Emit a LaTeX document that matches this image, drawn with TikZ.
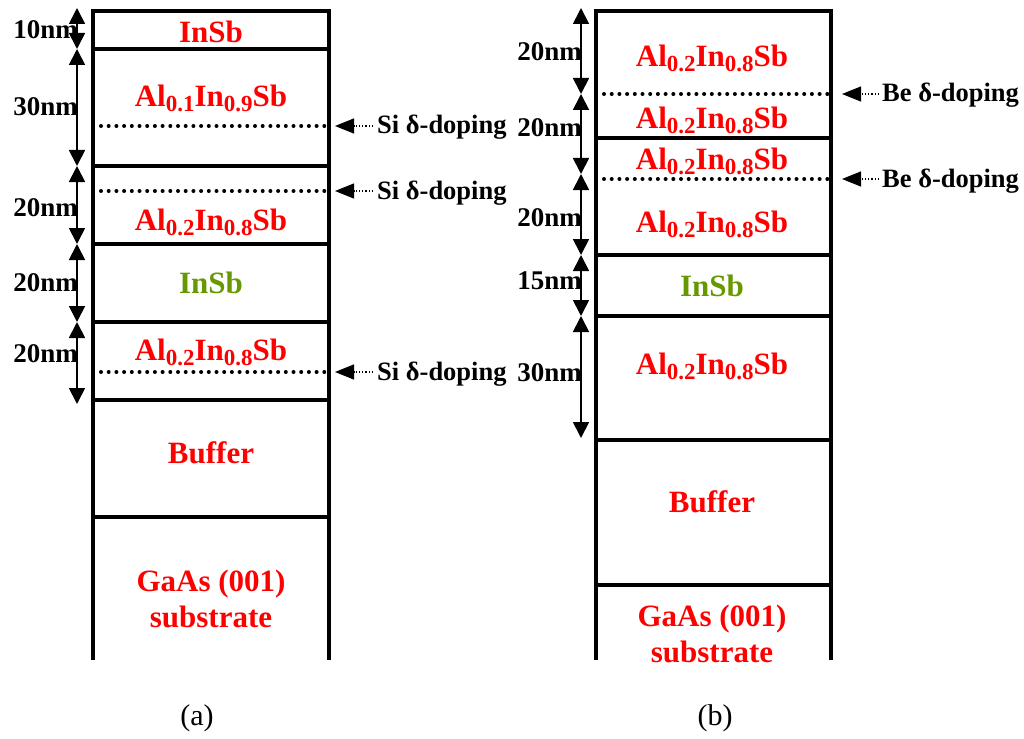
\documentclass[tikz,border=0pt]{standalone}
\usepackage{fontspec}
\setmainfont{Liberation Serif}
\usetikzlibrary{arrows.meta}
\definecolor{lred}{RGB}{255,0,0}
\definecolor{lgreen}{RGB}{102,153,0}
\newcommand\lsub[1]{\raisebox{-5pt}{\fontsize{23}{23}\selectfont #1}}
\newcommand\alin[2]{Al\lsub{#1}In\lsub{#2}Sb}
\begin{document}
\begin{tikzpicture}[x=1pt,y=-1pt,
  wall/.style={line width=4pt, line join=miter},
  sep/.style={line width=4pt},
  dopeline/.style={line width=4pt, dash pattern=on 0pt off 7.7pt, line cap=round},
  dim/.style={line width=1.8pt, {Triangle[width=16pt,length=16pt]}-{Triangle[width=16pt,length=16pt]}},
  layer/.style={font=\fontsize{31}{36}\selectfont\bfseries, text=lred, align=center, inner sep=0pt},
  dimlabel/.style={font=\fontsize{27}{27}\selectfont\bfseries, anchor=east, inner sep=0pt},
  dopelabel/.style={font=\fontsize{26.5}{27}\selectfont\bfseries, anchor=base west, inner sep=0pt},
  dopearrow/.style={line width=1.2pt, dotted, -{Triangle[width=15pt,length=19pt]}},
  caption/.style={font=\fontsize{30}{30}\selectfont, inner sep=0pt},
]
\useasboundingbox (0,0) rectangle (1024,738);

% ---------------- (a) ----------------
\draw[wall] (93,660) -- (93,11) -- (329,11) -- (329,660);
\foreach \y in {49,166,244,322,400,517}
  \draw[sep] (93,\y) -- (329,\y);
\foreach \y in {126,191,372}
  \draw[dopeline] (101,\y) -- (327,\y);

\node[layer] (a1) at (211,32) {InSb};
\node[layer] (a2) at (211,98) {\alin{0.1}{0.9}};
\node[layer] (a3) at (211,222) {\alin{0.2}{0.8}};
\node[layer, text=lgreen] (a4) at (211,283) {InSb};
\node[layer] (a5) at (211,352) {\alin{0.2}{0.8}};
\node[layer] (a6) at (211,453) {Buffer};
\node[layer] (a7) at (211,599) {GaAs (001)\\substrate};

\foreach \n/\y in {0/8,1/49,2/166,3/244,4/322}
  \coordinate (da\n) at (77,\y);
\coordinate (da5) at (77,404);
\draw[dim] (da0) -- (da1);
\draw[dim] (da1) -- (da2);
\draw[dim] (da2) -- (da3);
\draw[dim] (da3) -- (da4);
\draw[dim] (da4) -- (da5);
\node[dimlabel] (la1) at (78,30) {10nm};
\node[dimlabel] (la2) at (78,107) {30nm};
\node[dimlabel] (la3) at (78,208) {20nm};
\node[dimlabel] (la4) at (78,283) {20nm};
\node[dimlabel] (la5) at (78,354) {20nm};

\foreach \i/\y in {1/126,2/191,3/372}{
  \coordinate (sa\i s) at (373,\y);
  \coordinate (sa\i t) at (335,\y);
  \draw[dopearrow] (sa\i s) -- (sa\i t);
  \node[dopelabel] (sa\i) at (377,\y+8) {Si δ-doping};
}

\node[caption] (capa) at (197,718) {(a)};

% ---------------- (b) ----------------
\draw[wall] (596,660) -- (596,11) -- (831,11) -- (831,660);
\foreach \y in {138,255,316,440,585}
  \draw[sep] (596,\y) -- (831,\y);
\foreach \y in {94,179}
  \draw[dopeline] (604,\y) -- (829,\y);

\node[layer] (b1) at (712,58) {\alin{0.2}{0.8}};
\node[layer] (b2) at (712,120) {\alin{0.2}{0.8}};
\node[layer] (b3) at (712,161) {\alin{0.2}{0.8}};
\node[layer] (b4) at (712,224) {\alin{0.2}{0.8}};
\node[layer, text=lgreen] (b5) at (712,286) {InSb};
\node[layer] (b6) at (712,366) {\alin{0.2}{0.8}};
\node[layer] (b7) at (712,502) {Buffer};
\node[layer] (b8) at (712,634) {GaAs (001)\\substrate};

\coordinate (db0) at (581,8);
\coordinate (db1) at (581,94);
\coordinate (db2) at (581,174);
\coordinate (db3) at (581,255);
\coordinate (db4) at (581,316);
\coordinate (db5) at (581,438);
\draw[dim] (db0) -- (db1);
\draw[dim] (db1) -- (db2);
\draw[dim] (db2) -- (db3);
\draw[dim] (db3) -- (db4);
\draw[dim] (db4) -- (db5);
\node[dimlabel] (lb1) at (582,52) {20nm};
\node[dimlabel] (lb2) at (582,128) {20nm};
\node[dimlabel] (lb3) at (582,218) {20nm};
\node[dimlabel] (lb4) at (582,281) {15nm};
\node[dimlabel] (lb5) at (582,373) {30nm};

\foreach \i/\y in {1/94,2/179}{
  \coordinate (be\i s) at (879,\y);
  \coordinate (be\i t) at (842,\y);
  \draw[dopearrow] (be\i s) -- (be\i t);
  \node[dopelabel] (be\i) at (882,\y+8) {Be δ-doping};
}

\node[caption] (capb) at (715,718) {(b)};
\end{tikzpicture}
\end{document}
